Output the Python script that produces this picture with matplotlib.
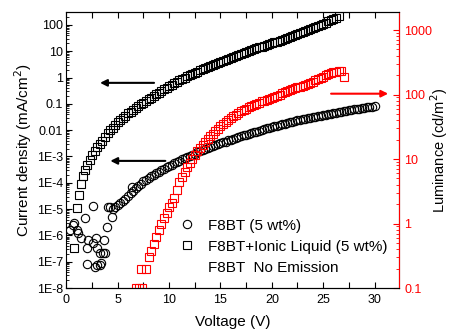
import matplotlib
matplotlib.use("Agg")
import matplotlib.pyplot as plt
from matplotlib.ticker import FixedLocator, FixedFormatter, MultipleLocator, LogLocator, NullFormatter
from matplotlib.lines import Line2D

plt.rcParams['font.family'] = ['Liberation Sans', 'DejaVu Sans']

# F8BT (5 wt%) - current density, noisy low-voltage part
f8bt_noise_v = [0.34, 0.66, 0.73, 1.0, 1.1, 1.4, 1.8, 2.0, 2.0, 2.1, 2.6, 2.6, 2.8, 2.9, 2.95,
                3.0, 3.3, 3.3, 3.4, 3.6, 3.7, 3.75, 3.9, 4.05, 4.25, 4.4, 6.4]
f8bt_noise_j = [1.6e-6, 2.5e-6, 3.0e-6, 1.6e-6, 1.2e-6, 8e-7, 4.6e-6, 3.2e-7, 8e-8, 6.8e-7, 1.26e-5, 5e-7,
                6.3e-8, 8e-7, 7.4e-8, 3.3e-7, 7.4e-8, 2.1e-7, 9e-8, 2.1e-7, 6.8e-7, 2.1e-7, 2.1e-6, 1.2e-5,
                1.2e-5, 5e-6, 7e-5]

# F8BT (5 wt%) - smooth part
f8bt_v = [4.5, 4.75, 5.0, 5.25, 5.5, 5.75, 6.0, 6.25, 6.5, 6.75,
          7.0, 7.25, 7.5, 7.75, 8.0, 8.25, 8.5, 8.75, 9.0, 9.25,
          9.5, 9.75, 10.0, 10.25, 10.5, 10.75, 11.0, 11.25, 11.5, 11.75,
          12.0, 12.25, 12.5, 12.75, 13.0, 13.25, 13.5, 13.75, 14.0, 14.25,
          14.5, 14.75, 15.0, 15.25, 15.5, 15.75, 16.0, 16.25, 16.5, 16.75,
          17.0, 17.25, 17.5, 17.75, 18.0, 18.25, 18.5, 18.75, 19.0, 19.25,
          19.5, 19.75, 20.0, 20.25, 20.5, 20.75, 21.0, 21.25, 21.5, 21.75,
          22.0, 22.25, 22.5, 22.75, 23.0, 23.25, 23.5, 23.75, 24.0, 24.25,
          24.5, 24.75, 25.0, 25.25, 25.5, 25.75, 26.0, 26.25, 26.5, 26.75,
          27.0, 27.25, 27.5, 27.75, 28.0, 28.25, 28.5, 28.75, 29.0, 29.25,
          29.5, 29.75, 30.0]
f8bt_j = [1.0e-5, 1.2e-5, 1.4e-5, 1.7e-5, 2.0e-5, 2.5e-5, 3.2e-5, 4.0e-5, 5.0e-5, 6.2e-5,
          7.6e-5, 9.3e-5, 1.12e-4, 1.32e-4, 1.51e-4, 1.74e-4, 2.0e-4, 2.3e-4, 2.6e-4, 3.0e-4,
          3.4e-4, 3.9e-4, 4.4e-4, 4.9e-4, 5.5e-4, 6.2e-4, 6.9e-4, 7.8e-4, 8.5e-4, 9.5e-4,
          1.05e-3, 1.17e-3, 1.29e-3, 1.45e-3, 1.58e-3, 1.74e-3, 1.9e-3, 2.1e-3, 2.3e-3, 2.5e-3,
          2.7e-3, 2.95e-3, 3.2e-3, 3.5e-3, 3.7e-3, 4.1e-3, 4.4e-3, 4.8e-3, 5.1e-3, 5.5e-3,
          5.9e-3, 6.3e-3, 6.8e-3, 7.2e-3, 7.8e-3, 8.3e-3, 8.9e-3, 9.5e-3, 0.0102, 0.011,
          0.0117, 0.0126, 0.0132, 0.0141, 0.0148, 0.0158, 0.0166, 0.0178, 0.0186, 0.020,
          0.0209, 0.0224, 0.0234, 0.0245, 0.0257, 0.0269, 0.0282, 0.0295, 0.0309, 0.0324,
          0.0339, 0.0355, 0.0372, 0.0389, 0.0407, 0.0427, 0.0447, 0.0468, 0.049, 0.050,
          0.0525, 0.055, 0.0575, 0.060, 0.0617, 0.0646, 0.066, 0.069, 0.071, 0.074,
          0.076, 0.079, 0.081]

# F8BT + ionic liquid (5 wt%) - current density
il_v = [0.75, 1.0, 1.2, 1.4, 1.6, 1.8, 2.0,
        2.25, 2.5, 2.75, 3.0, 3.25, 3.5, 3.75, 4.0, 4.25, 4.5,
        4.75, 5.0, 5.25, 5.5, 5.75, 6.0, 6.25, 6.5, 6.75, 7.0,
        7.25, 7.5, 7.75, 8.0, 8.25, 8.5, 8.75, 9.0, 9.25, 9.5,
        9.75, 10.0, 10.25, 10.5, 10.75, 11.0, 11.25, 11.5, 11.75, 12.0,
        12.25, 12.5, 12.75, 13.0, 13.25, 13.5, 13.75, 14.0, 14.25, 14.5,
        14.75, 15.0, 15.25, 15.5, 15.75, 16.0, 16.25, 16.5, 16.75, 17.0,
        17.25, 17.5, 17.75, 18.0, 18.25, 18.5, 18.75, 19.0, 19.25, 19.5,
        19.75, 20.0, 20.25, 20.5, 20.75, 21.0, 21.25, 21.5, 21.75, 22.0,
        22.25, 22.5, 22.75, 23.0, 23.25, 23.5, 23.75, 24.0, 24.25, 24.5,
        24.75, 25.0, 25.25, 25.5, 25.75, 26.0, 26.25, 26.5]
il_j = [3.2e-7, 1.1e-5, 3.5e-5, 8.9e-5, 1.8e-4, 3.0e-4, 4.8e-4,
        7.6e-4, 1.1e-3, 1.6e-3, 2.2e-3, 3.0e-3, 4.0e-3, 5.6e-3, 7.6e-3, 0.010, 0.0126,
        0.0158, 0.020, 0.0245, 0.030, 0.036, 0.044, 0.051, 0.060, 0.071, 0.083,
        0.098, 0.112, 0.132, 0.151, 0.174, 0.20, 0.234, 0.27, 0.31, 0.355,
        0.41, 0.47, 0.54, 0.60, 0.69, 0.78, 0.89, 1.0, 1.12, 1.26,
        1.38, 1.55, 1.7, 1.9, 2.1, 2.3, 2.5, 2.75, 3.0, 3.3,
        3.6, 4.0, 4.4, 4.8, 5.2, 5.75, 6.2, 6.8, 7.3, 7.9,
        8.6, 9.3, 10.2, 11.0, 11.9, 12.9, 14.0, 15.1, 16.2, 17.4,
        18.6, 20, 21.6, 23.4, 25.4, 27.5, 29.9, 32.4, 35.1, 38,
        41.2, 44.7, 48.5, 52.5, 57.5, 63, 69, 76, 83, 91,
        101, 112, 124, 138, 153, 170, 191, 214]

# F8BT + ionic liquid - luminance (right axis)
lum_v = [6.8, 7.1, 7.3, 7.4, 7.7,
         8.0, 8.25, 8.5, 8.75, 9.0, 9.25, 9.5, 9.75, 10.0, 10.25,
         10.5, 10.75, 11.0, 11.25, 11.5, 11.75, 12.0, 12.25, 12.5, 12.75,
         13.0, 13.25, 13.5, 13.75, 14.0, 14.25, 14.5, 14.75, 15.0, 15.25,
         15.5, 15.75, 16.0, 16.25, 16.5, 16.75, 17.0, 17.25, 17.5, 17.75,
         18.0, 18.25, 18.5, 18.75, 19.0, 19.25, 19.5, 19.75, 20.0, 20.25,
         20.5, 20.75, 21.0, 21.25, 21.5, 21.75, 22.0, 22.25, 22.5, 22.75,
         23.0, 23.25, 23.5, 23.75, 24.0, 24.25, 24.5, 24.75, 25.0, 25.25,
         25.5, 25.75, 26.0, 26.25, 26.5, 26.75, 27.0]
lum = [0.1, 0.1, 0.2, 0.1, 0.2,
       0.30, 0.37, 0.48, 0.62, 0.79, 1.0, 1.2, 1.45, 1.78, 2.1,
       2.5, 3.3, 4.4, 5.2, 6.3, 7.4, 8.7, 10, 11.5, 13.2,
       14.8, 16.6, 18.6, 20.4, 22.4, 24.5, 27, 29.5, 32, 34.7,
       37, 40, 43, 46, 49, 52.5, 55, 57.5, 60, 63,
       66, 69, 72, 75, 78, 80, 83, 86, 89, 92,
       95, 100, 105, 108, 112, 116, 120, 124, 129, 133,
       138, 143, 148, 153, 158, 166, 174, 182, 190, 200,
       209, 216, 224, 226, 229, 229, 190]

left_ticks = [1e-8, 1e-7, 1e-6, 1e-5, 1e-4, 1e-3, 0.01, 0.1, 1, 10, 100]
left_labels = ['1E-8', '1E-7', '1E-6', '1E-5', '1E-4', '1E-3', '0.01', '0.1', '1', '10', '100']
right_ticks = [0.1, 1, 10, 100, 1000]
right_labels = ['0.1', '1', '10', '100', '1000']
legend_labels = ['F8BT (5 wt%)', 'F8BT+Ionic Liquid (5 wt%)', 'F8BT  No Emission']

fig = plt.figure(figsize=(4.49, 3.29), dpi=100)
ax = fig.add_axes([0.148, 0.1246, 0.741, 0.839])
ax2 = ax.twinx()

ax.plot(f8bt_noise_v, f8bt_noise_j, 'o', ms=6, mfc='none', mec='black', mew=0.8)
ax.plot(f8bt_v, f8bt_j, 'o', ms=6, mfc='none', mec='black', mew=0.8)
ax.plot(il_v, il_j, 's', ms=5.5, mfc='none', mec='black', mew=0.8)
ax2.plot(lum_v, lum, 's', ms=5.5, mfc='none', mec='red', mew=0.8)

ax.set_xlim(0, 32.4)
ax.set_yscale('log')
ax.set_ylim(1e-8, 312)
ax2.set_yscale('log')
ax2.set_ylim(0.1, 1905)

ax.xaxis.set_major_locator(MultipleLocator(5))
ax.xaxis.set_minor_locator(MultipleLocator(2.5))
ax.yaxis.set_major_locator(FixedLocator(left_ticks))
ax.yaxis.set_major_formatter(FixedFormatter(left_labels))
ax.yaxis.set_minor_locator(LogLocator(base=10, subs=range(2, 10), numticks=20))
ax.yaxis.set_minor_formatter(NullFormatter())
ax2.yaxis.set_major_locator(FixedLocator(right_ticks))
ax2.yaxis.set_major_formatter(FixedFormatter(right_labels))
ax2.yaxis.set_minor_locator(LogLocator(base=10, subs=range(2, 10), numticks=20))
ax2.yaxis.set_minor_formatter(NullFormatter())

ax.tick_params(axis='x', which='both', direction='in', top=True, length=4, width=0.8,
               labelsize=9, pad=4)
ax.tick_params(axis='y', which='major', direction='in', length=4, width=0.8, labelsize=9, pad=2.5)
ax.tick_params(axis='y', which='minor', direction='in', length=2, width=0.6)
ax2.tick_params(axis='y', which='major', direction='in', length=4, width=0.8, labelsize=9,
                colors='red', pad=3.5)
ax2.tick_params(axis='y', which='minor', direction='in', length=2, width=0.6, colors='red')
ax2.spines['right'].set_color('red')
ax2.spines['left'].set_visible(False)

ax.set_xlabel('Voltage (V)', fontsize=11, labelpad=7)
ax.set_ylabel('Current density (mA/cm$^2$)', fontsize=11, labelpad=2)
ax2.set_ylabel('Luminance (cd/m$^2$)', fontsize=10.5)
ax2.yaxis.set_label_coords(1.088, 0.5)

# arrows pointing to the axis each curve belongs to
arrow_style = dict(arrowstyle='-|>', lw=1.5, mutation_scale=10)
ax.annotate('', xy=(3.0, 0.63), xytext=(8.8, 0.63), arrowprops=dict(color='black', **arrow_style))
ax.annotate('', xy=(4.0, 6.8e-4), xytext=(9.9, 6.8e-4), arrowprops=dict(color='black', **arrow_style))
ax2.annotate('', xy=(31.6, 103), xytext=(25.5, 103), arrowprops=dict(color='red', **arrow_style))

handles = [Line2D([], [], ls='none', marker='o', ms=6, mfc='none', mec='black', mew=0.8),
           Line2D([], [], ls='none', marker='s', ms=5.5, mfc='none', mec='black', mew=0.8),
           Line2D([], [], ls='none')]
ax2.legend(handles, legend_labels, loc='lower left', bbox_to_anchor=(0.306, 0.01), frameon=False,
           fontsize=11, handlelength=1.0, handletextpad=0.9, labelspacing=0.45, borderpad=0.2)

fig.savefig('out.png', dpi=100)
